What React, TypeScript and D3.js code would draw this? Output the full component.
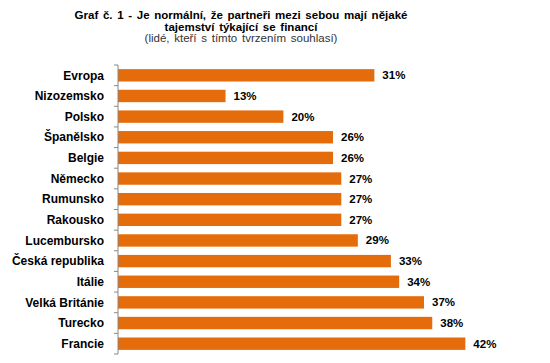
import React from "react"
import * as d3 from "d3"

const categories = [
	"Evropa",
	"Nizozemsko",
	"Polsko",
	"Španělsko",
	"Belgie",
	"Německo",
	"Rumunsko",
	"Rakousko",
	"Lucembursko",
	"Česká republika",
	"Itálie",
	"Velká Británie",
	"Turecko",
	"Francie",
]
const values = [31, 13, 20, 26, 26, 27, 27, 27, 29, 33, 34, 37, 38, 42]
const titleLines = [
	"Graf č. 1 - Je normální,  že partneři mezi sebou mají nějaké",
	"tajemství týkající se financí",
]
const subtitle = "(lidé, kteří s tímto tvrzením souhlasí)"

const width = 550
const height = 363
const font = "'Liberation Sans', Arial, sans-serif"

const App = () => {
	const marginLeft = 118
	const marginTop = 65
	const marginBottom = 9

	const x = d3
		.scaleLinear()
		.domain([0, 50])
		.range([marginLeft, marginLeft + 8.27 * 50])

	const y = d3
		.scaleBand()
		.domain(categories)
		.range([marginTop, height - marginBottom])
		.paddingInner(0.4)
		.paddingOuter(0.2)

	const axisTop = marginTop
	const axisBottom = height - marginBottom
	// ticks sit on the band boundaries
	const tickYs = d3
		.range(categories.length + 1)
		.map(i => axisTop + i * ((axisBottom - axisTop) / categories.length))

	return (
		<svg
			width={width}
			height={height}
			style={{ position: "absolute", left: 0, top: 0, background: "#fff" }}
			fontFamily={font}
		>
			{/* title */}
			<text x={241} y={19} textAnchor="middle" fontSize={11.5} wordSpacing={1.5} fontWeight="bold" fill="#000">
				{titleLines[0]}
			</text>
			<text x={241} y={30.5} textAnchor="middle" fontSize={11.5} wordSpacing={1.5} fontWeight="bold" fill="#000">
				{titleLines[1]}
			</text>
			<text x={241} y={42} textAnchor="middle" fontSize={11.5} wordSpacing={1.5} fill="#333">
				{subtitle}
			</text>

			{/* bars */}
			{categories.map((c, i) => (
				<g key={c}>
					<rect
						x={x(0)}
						y={y(c)}
						width={x(values[i]) - x(0)}
						height={y.bandwidth()}
						fill="#E56C0A"
					/>
					<text
						x={x(values[i]) + 8}
						y={y(c)! + y.bandwidth() / 2}
						dy="0.35em"
						fontSize={11.5}
						fontWeight="bold"
						fill="#000"
					>
						{values[i]}%
					</text>
					<text
						x={104}
						y={y(c)! + y.bandwidth() / 2}
						dy="0.35em"
						textAnchor="end"
						fontSize={12}
						fontWeight="bold"
						fill="#000"
					>
						{c}
					</text>
				</g>
			))}

			{/* axis */}
			<line x1={x(0)} x2={x(0)} y1={axisTop} y2={axisBottom} stroke="#888" />
			{tickYs.map((t, i) => (
				<line key={i} x1={x(0) - 4} x2={x(0)} y1={t} y2={t} stroke="#888" />
			))}
		</svg>
	)
}

export default App
